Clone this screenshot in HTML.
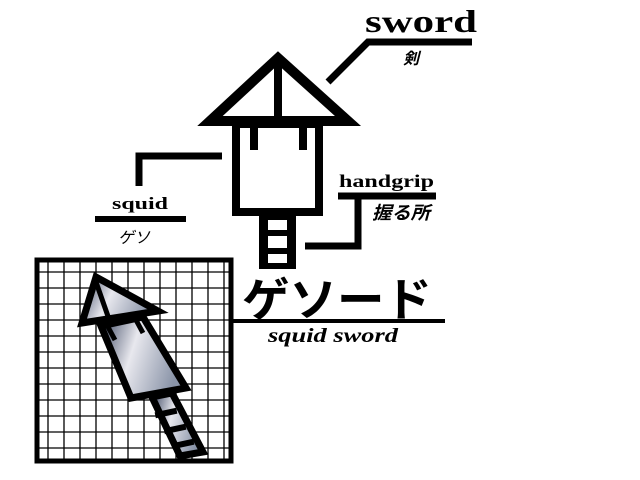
<!DOCTYPE html>
<html><head><meta charset="utf-8"><style>body{margin:0;background:#fff}svg{display:block}</style></head><body>
<svg width="640" height="480" viewBox="0 0 640 480" xmlns="http://www.w3.org/2000/svg">
<defs>
<linearGradient id="g" x1="0" y1="0" x2="1" y2="0.3">
<stop offset="0" stop-color="#3a4560"/><stop offset="0.45" stop-color="#e8e8ee"/><stop offset="1" stop-color="#8a94a8"/>
</linearGradient>
</defs>
<polygon points="278,58 210,121 348,121" fill="none" stroke="#000" stroke-width="10" stroke-linejoin="miter"/>
<rect x="274" y="60" width="8" height="62" fill="#000"/>
<rect x="236" y="124" width="83" height="88" fill="none" stroke="#000" stroke-width="8"/>
<rect x="250" y="126" width="8" height="24" fill="#000"/>
<rect x="299" y="126" width="8" height="24" fill="#000"/>
<rect x="259" y="212" width="37" height="57" fill="#000"/>
<rect x="268" y="220" width="19" height="10" fill="#fff"/>
<rect x="268" y="236" width="19" height="12" fill="#fff"/>
<rect x="268" y="254" width="19" height="9" fill="#fff"/>
<polyline points="328,82 368,42 472,42" fill="none" stroke="#000" stroke-width="7"/>
<polyline points="338,196 436,196" fill="none" stroke="#000" stroke-width="7"/>
<polyline points="358,196 358,246 305,246" fill="none" stroke="#000" stroke-width="7"/>
<polyline points="222,156 139,156 139,186" fill="none" stroke="#000" stroke-width="7"/>
<rect x="95" y="216" width="91" height="6" fill="#000"/>
<rect x="233" y="319" width="212" height="4" fill="#000"/>
<g font-family="'Liberation Serif','Noto Serif CJK SC',serif" font-weight="bold">
<text x="365" y="32" font-size="32" textLength="112" lengthAdjust="spacingAndGlyphs">sword</text>
<text x="339" y="187" font-size="18" textLength="95" lengthAdjust="spacingAndGlyphs">handgrip</text>
<text x="112" y="209" font-size="17" textLength="56" lengthAdjust="spacingAndGlyphs">squid</text>
<text x="268" y="342" font-size="20" font-style="italic" textLength="130" lengthAdjust="spacingAndGlyphs">squid sword</text>
</g>
<g font-family="'Liberation Sans','Noto Sans CJK JP',sans-serif" font-style="italic" font-weight="bold">
<text x="403" y="64" font-size="16">剣</text>
<text x="372" y="219" font-size="18" textLength="58" lengthAdjust="spacingAndGlyphs">握る所</text>
<text x="118" y="243" font-size="16" font-weight="normal">ゲソ</text>
<text x="242" y="316" font-size="46" font-style="normal" textLength="190" lengthAdjust="spacingAndGlyphs">ゲソード</text>
</g>
<rect x="37" y="260" width="194" height="201" fill="#fff" stroke="#000" stroke-width="5"/>
<g stroke="#000" stroke-width="1.3">
<path d="M48 260V461M64 260V461M80 260V461M96 260V461M112 260V461M128 260V461M144 260V461M160 260V461M176 260V461M192 260V461M208 260V461M224 260V461"/>
<path d="M37 272H231M37 288H231M37 304H231M37 320H231M37 336H231M37 352H231M37 368H231M37 384H231M37 400H231M37 416H231M37 432H231M37 448H231"/>
</g>
<g stroke="#000" stroke-width="7" stroke-linejoin="miter" fill="url(#g)">
<polygon points="152,397 172,393 203,452 180,456"/>
<polygon points="101,326 143,317 186,388 131,398"/>
<polygon points="96,277 82,323 158,311"/>
</g>
<g fill="#000">
<rect x="155" y="410" width="22" height="6" transform="rotate(-12 166 413)"/>
<rect x="164" y="426" width="22" height="6" transform="rotate(-12 175 429)"/>
<rect x="172" y="441" width="22" height="6" transform="rotate(-12 183 444)"/>
</g>
<line x1="96" y1="282" x2="110" y2="322" stroke="#000" stroke-width="5"/>
<line x1="108" y1="327" x2="115" y2="340" stroke="#000" stroke-width="5"/>
<line x1="136" y1="320" x2="143" y2="333" stroke="#000" stroke-width="5"/>
</svg>
</body></html>
